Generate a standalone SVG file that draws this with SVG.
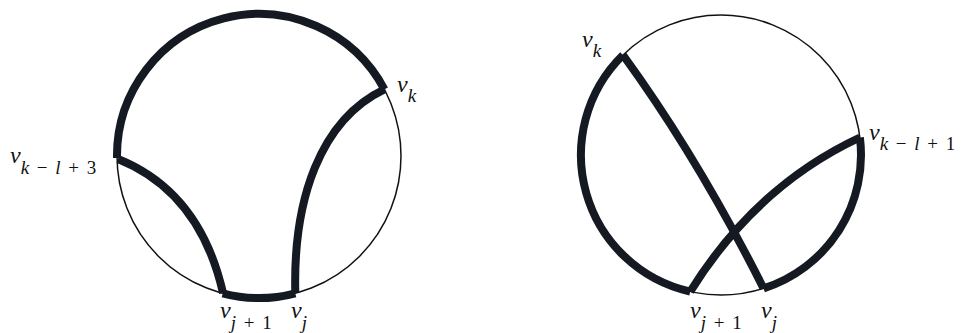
<svg xmlns="http://www.w3.org/2000/svg" width="962" height="333" viewBox="0 0 962 333">
<style>
.thin{fill:none;stroke:#111;stroke-width:1.5}
.thick{fill:none;stroke:#151a22;stroke-width:8;stroke-linecap:butt}
.lbl{font-family:"Liberation Serif","Times New Roman",serif;font-size:24px;fill:#111}
.it{font-style:italic}
.sub{font-size:19px;word-spacing:3px}
</style>
<rect width="962" height="333" fill="#fff"/>
<g id="circleLeft">
<circle class="thin" cx="259" cy="156" r="142"/>
</g>
<g id="circleRight">
<circle class="thin" cx="721" cy="155" r="140"/>
</g>
<g id="connectors">
<path class="thick" d="M117,158 A142,142 0 0 1 384.4,89.3"/>
<path class="thick" d="M222.7,293.3 A142,142 0 0 0 295.3,293.3"/>
<path class="thick" d="M118,159 Q200,192 223,293"/>
<path class="thick" d="M295.3,293 C293,200 320,120 384.4,89.3"/>
<path class="thick" d="M623,55 A140,140 0 0 0 690.2,291.6"/>
<path class="thick" d="M859.9,137.5 A140,140 0 0 1 763.6,288.4"/>
<path class="thick" d="M623,55 Q698,158 763.6,288.4"/>
<path class="thick" d="M690.2,291.6 Q756,186 859.9,137.5"/>
</g>
<g id="labels">
<text class="lbl" x="10" y="163"><tspan class="it">v</tspan><tspan class="sub" dy="11"><tspan class="it">k</tspan> − <tspan class="it">l</tspan> + 3</tspan></text>
<text class="lbl" x="397" y="92"><tspan class="it">v</tspan><tspan class="sub it" dy="10">k</tspan></text>
<text class="lbl" x="220" y="318"><tspan class="it">v</tspan><tspan class="sub" dy="11"><tspan class="it">j</tspan> + 1</tspan></text>
<text class="lbl" x="291" y="318"><tspan class="it">v</tspan><tspan class="sub it" dy="11">j</tspan></text>
<text class="lbl" x="582" y="47"><tspan class="it">v</tspan><tspan class="sub it" dy="10">k</tspan></text>
<text class="lbl" x="869" y="140"><tspan class="it">v</tspan><tspan class="sub" dy="10"><tspan class="it">k</tspan> − <tspan class="it">l</tspan> + 1</tspan></text>
<text class="lbl" x="690" y="318"><tspan class="it">v</tspan><tspan class="sub" dy="11"><tspan class="it">j</tspan> + 1</tspan></text>
<text class="lbl" x="761" y="318"><tspan class="it">v</tspan><tspan class="sub it" dy="11">j</tspan></text>
</g>
</svg>
